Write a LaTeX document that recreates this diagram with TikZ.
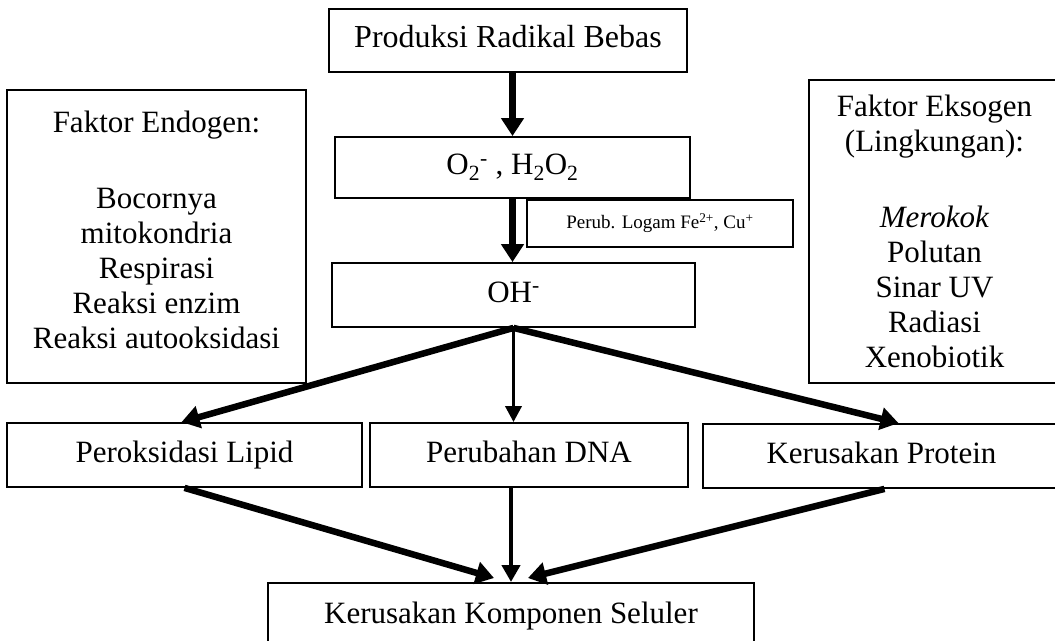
\documentclass[tikz,border=0pt]{standalone}
\usepackage{fontspec}
\setmainfont{Liberation Serif}
\usetikzlibrary{arrows.meta}
\tikzset{
  box/.style={draw, line width=1.8pt, rectangle, inner sep=0pt, align=center,
    font=\fontsize{31}{35}\selectfont},
  oneline/.style={text height=21pt, text depth=7pt},
  thick arrow/.style={line width=6.5pt, -{Triangle[length=18pt,width=22pt]}},
  mid arrow/.style={line width=4.5pt, -{Triangle[length=17pt,width=18pt]}},
  thin arrow/.style={line width=3.5pt, -{Triangle[length=16pt,width=16pt]}},
}
\begin{document}
\begin{tikzpicture}[x=1pt,y=-1pt]
\clip (0,0) rectangle (1055,640);
\fill[white] (0,0) rectangle (1055,640);
% nodes
\node[box, oneline, minimum width=358pt, minimum height=63pt, font=\fontsize{32}{35}\selectfont] (prod) at (508,40.5) {Produksi Radikal Bebas};
\node[box, oneline, minimum width=355pt, minimum height=61pt] (o2) at (512.5,167.5)
  {O\textsubscript{2}\textsuperscript{-} , H\textsubscript{2}O\textsubscript{2}};
\node[box, minimum width=266pt, minimum height=47pt, text height=14pt, text depth=4pt, font=\fontsize{19}{21}\selectfont] (perub) at (660,223.5)
  {Perub. Logam Fe\textsuperscript{2+}, Cu\textsuperscript{+}};
\node[box, oneline, minimum width=363pt, minimum height=64pt] (oh) at (513.5,295) {OH\textsuperscript{-}};
\node[box, minimum width=299pt, minimum height=293pt] (endo) at (156.5,236.5)
  {Faktor Endogen:\\[41pt]Bocornya\\mitokondria\\Respirasi\\Reaksi enzim\\Reaksi autooksidasi\\[-21pt]\mbox{}};
\node[box, minimum width=251pt, minimum height=303pt] (ekso) at (934.5,231.5)
  {Faktor Eksogen\\(Lingkungan):\\[41pt]\textit{Merokok}\\Polutan\\Sinar UV\\Radiasi\\Xenobiotik};
\node[box, oneline, minimum width=355pt, minimum height=64pt] (pl) at (184.5,455) {Peroksidasi Lipid};
\node[box, oneline, minimum width=318pt, minimum height=64pt] (dna) at (529,455) {Perubahan DNA};
\node[box, oneline, minimum width=357pt, minimum height=64pt] (kp) at (881.5,456) {Kerusakan Protein};
\node[box, minimum width=486pt, anchor=north, inner ysep=8pt, text height=33pt, text depth=40pt] (kk) at (511,582)
  {Kerusakan Komponen Seluler};
% connectors
\draw[thick arrow] (prod.south -| o2.north) -- (o2.north);
\draw[thick arrow] (o2.south) -- (o2.south |- oh.north);
\draw[thick arrow] (oh.south) -- ([xshift=-3pt]pl.north);
\draw[thin arrow] (oh.south) -- (oh.south |- dna.north);
\draw[thick arrow] (oh.south) -- ([xshift=17pt]kp.north);
\draw[thick arrow] (pl.south) -- ([xshift=-17pt,yshift=4pt]kk.north);
\draw[mid arrow] (dna.south -| kk.north) -- (kk.north);
\draw[thick arrow] ([xshift=3pt]kp.south) -- ([xshift=17pt,yshift=4pt]kk.north);
\end{tikzpicture}
\end{document}
